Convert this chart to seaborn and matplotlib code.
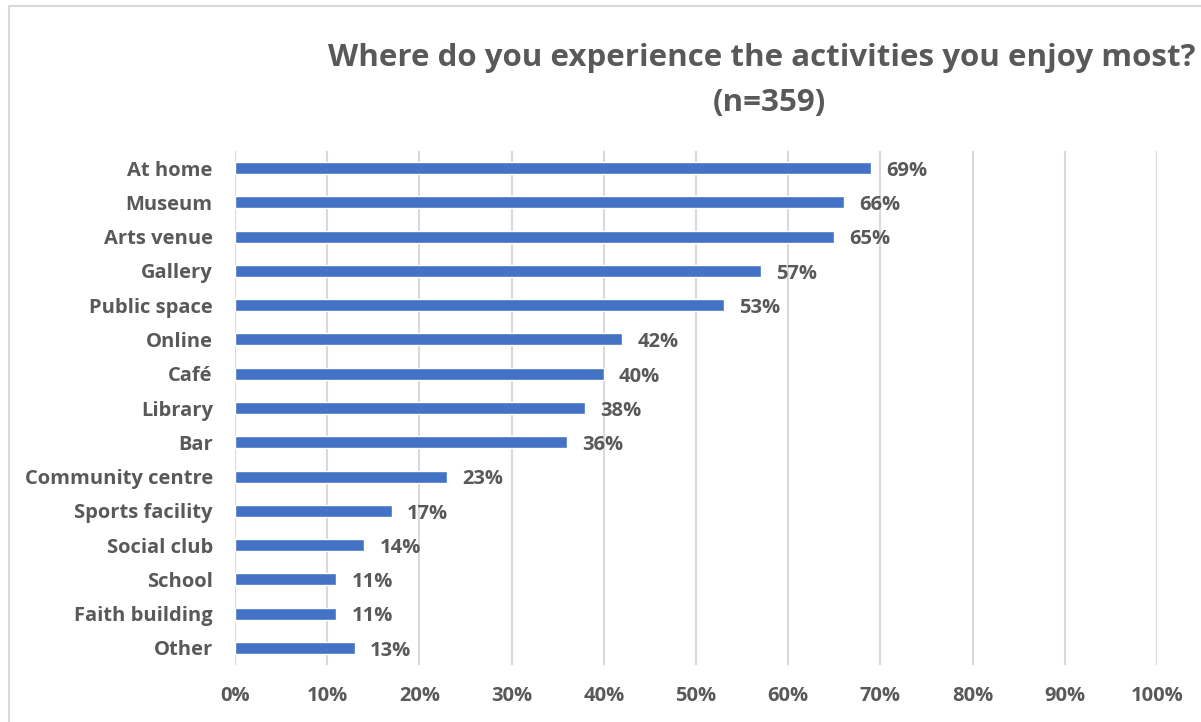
import matplotlib
matplotlib.use("Agg")
import matplotlib.pyplot as plt
from matplotlib.patches import Rectangle
import seaborn as sns
import pandas as pd

categories = ["At home", "Museum", "Arts venue", "Gallery", "Public space", "Online",
              "Café", "Library", "Bar", "Community centre", "Sports facility",
              "Social club", "School", "Faith building", "Other"]
values = [69, 66, 65, 57, 53, 42, 40, 38, 36, 23, 17, 14, 11, 11, 13]
x_ticks = [0, 10, 20, 30, 40, 50, 60, 70, 80, 90, 100]
x_tick_labels = [f"{t}%" for t in x_ticks]

df = pd.DataFrame({"place": categories, "share": values})

sns.set_theme(style="white")
plt.rcParams["font.family"] = ["Open Sans", "DejaVu Sans"]

TEXT = "#595959"
BAR = "#4472C4"
GRID = "#D9D9D9"
FS = 14.5

fig = plt.figure(figsize=(12.01, 7.22), dpi=100)
ax = fig.add_axes([0.1957, 0.0789, 0.9634 - 0.1957, 0.7909 - 0.0789])

sns.barplot(data=df, x="share", y="place", orient="h", color=BAR,
            saturation=1, width=0.35, ax=ax, zorder=3)

ax.set_xlim(0, 100)
ax.set_ylim(len(categories) - 0.5, -0.5)
ax.set_xticks(x_ticks)
ax.set_xticklabels(x_tick_labels)
ax.xaxis.grid(True, color=GRID, linewidth=1.5, zorder=0)
ax.yaxis.grid(False)
for s in ax.spines.values():
    s.set_visible(False)
ax.set_xlabel("")
ax.set_ylabel("")
ax.tick_params(axis="x", length=0, pad=15, labelsize=FS, labelcolor=TEXT)
ax.tick_params(axis="y", length=0, pad=16, labelsize=FS, labelcolor=TEXT)
for lbl in ax.get_xticklabels() + ax.get_yticklabels():
    lbl.set_fontweight("bold")

for i, v in enumerate(values):
    ax.annotate(f"{v}%", xy=(v, i), xytext=(11, -2), textcoords="offset points",
                ha="left", va="center", fontsize=FS, fontweight="bold", color=TEXT)

fig.text(0.634, 0.919, "Where do you experience the activities you enjoy most?",
         ha="center", va="center", fontsize=22.5, fontweight="bold", color=TEXT)
fig.text(0.641, 0.857, "(n=359)", ha="center", va="center",
         fontsize=22.5, fontweight="bold", color=TEXT)

# chart frame
fig.patches.append(Rectangle((9 / 1201, -0.1), 1.2, 1 - 6 / 722 + 0.1,
                             transform=fig.transFigure, fill=False,
                             edgecolor=GRID, linewidth=1.5))

fig.savefig("out.png", dpi=100)
